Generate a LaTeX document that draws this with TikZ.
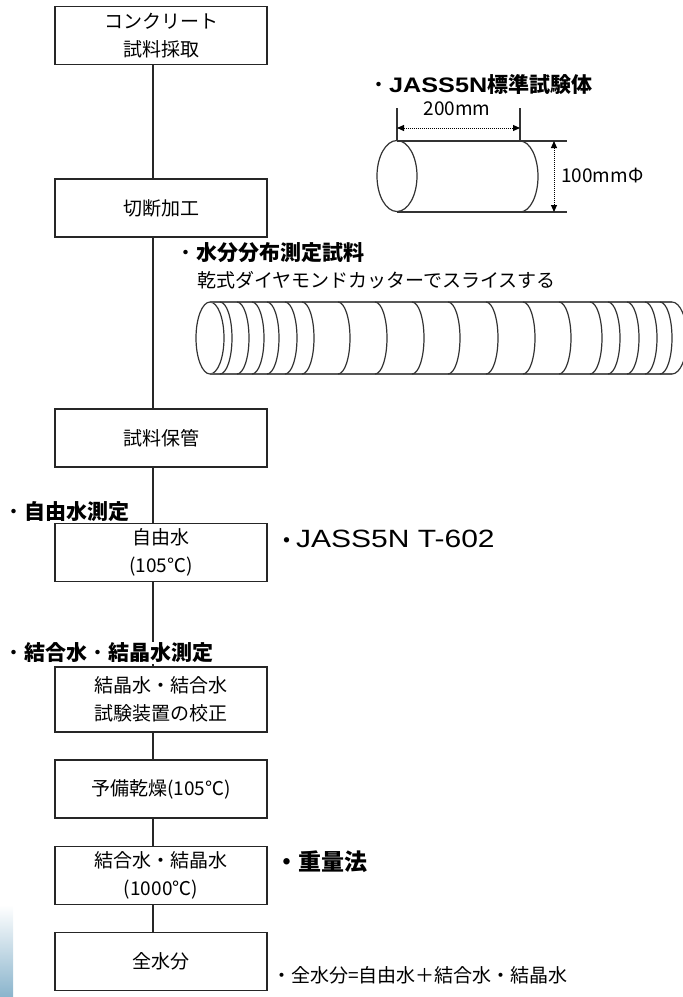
\documentclass[tikz,border=0pt]{standalone}
\usepackage{fontspec}
\setmainfont{Noto Sans CJK JP}
\newfontfamily\widesans[FakeStretch=1.2]{Liberation Sans}
\usetikzlibrary{arrows.meta,calc}
\definecolor{steel}{HTML}{8AB4CC}
\newcommand{\thindot}{{\mdseries ・}}

\begin{document}
\begin{tikzpicture}[x=1pt, y=-1pt,
  stage/.style={draw=black!85, line width=1.3pt, minimum width=212pt, minimum height=58pt, inner sep=0pt, align=center, font=\fontsize{19}{28}\selectfont},
  head/.style={anchor=west, fill=white, inner sep=1pt, font=\fontsize{21}{24}\selectfont\bfseries},
  note/.style={anchor=west, inner sep=0pt, font=\fontsize{19}{24}\selectfont},
  edge/.style={draw=black!85, line width=1.3pt},
  body/.style={draw=black!80, line width=1.2pt},
  dim/.style={densely dotted, line width=1pt, {Triangle[length=7pt,width=6pt]}-{Triangle[length=7pt,width=6pt]}}]
\useasboundingbox (0,0) rectangle (683,997);
\shade[top color=white, bottom color=steel] (0,905) rectangle (13,997);

% flow of stages
\coordinate (spine) at (153,0);
\node[stage] (sampling) at (161,35.5) {コンクリート\\試料採取};
\node[stage] (cutting) at (161,208) {切断加工};
\node[stage] (storage) at (161,438) {試料保管};
\node[stage] (freewater) at (161,552.5) {自由水\\(105℃)};
\node[stage, minimum height=65pt] (calib) at (161,699.5) {結晶水・結合水\\試験装置の校正};
\node[stage] (predry) at (161,789) {予備乾燥(105℃)};
\node[stage] (bound) at (161,875.5) {結合水・結晶水\\(1000℃)};
\node[stage] (total) at (161,961.5) {全水分};
\foreach \a/\b in {sampling/cutting, cutting/storage, storage/freewater, freewater/calib, calib/predry, predry/bound, bound/total}
  \draw[edge] (\a.south -| spine) -- (\b.north -| spine);

\node[head] (freehead) at (2,512) {\thindot 自由水測定};
\node[head] (boundhead) at (2,653) {\thindot 結合水\thindot 結晶水測定};
\node[anchor=west, inner sep=0pt, font=\fontsize{19}{24}\selectfont] (jisnote) at (277,539) {{\bfseries ・}{\widesans\fontsize{25}{28}\selectfont JASS5N T-602}};
\node[head, font=\fontsize{23}{26}\selectfont\bfseries] (gravimetric) at (274,862) {・重量法};
\node[note] (sumnote) at (272,975) {・全水分=自由水＋結合水・結晶水};

% standard specimen
\node[head] (jasshead) at (367,84) {\thindot{\widesans\bfseries JASS5N}標準試験体};
\draw[body] (397,176) ellipse [x radius=20, y radius=35.5];
\draw[body] (397,141) -- (567,141); \draw[body] (397,212) -- (567,212);
\draw[body] (520,141) arc[start angle=-90, end angle=90, x radius=18, y radius=35.5];
\draw[body] (397,108) -- (397,141); \draw[body] (520,108) -- (520,141);
\draw[dim] (397,128) -- (520,128); \draw[dim] (554,141) -- (554,212);
\node[font=\fontsize{19}{24}\selectfont, inner sep=0pt] (len) at (457,109) {200mm};
\node[note] (dia) at (561,176) {100mmΦ};

% sliced specimen
\node[head] (slicehead) at (174,253) {\thindot 水分分布測定試料};
\node[note] (slicenote) at (197,280) {乾式ダイヤモンドカッターでスライスする};
\draw[body] (210,338) ellipse [x radius=14, y radius=36];
\draw[body, draw=black!65, line width=1.6pt] (210,302) -- (672,302); \draw[body, draw=black!65, line width=1.6pt] (210,374) -- (672,374);
\foreach \s in {220,237,252,267,285,302,338,375,412,448,486,523,559,590,608,627,645,660}
  \draw[body] (\s,302) arc[start angle=-90, end angle=90, x radius=12, y radius=36];
\draw[body] (672,302) arc[start angle=-90, end angle=90, x radius=15, y radius=36];
\end{tikzpicture}
\end{document}
